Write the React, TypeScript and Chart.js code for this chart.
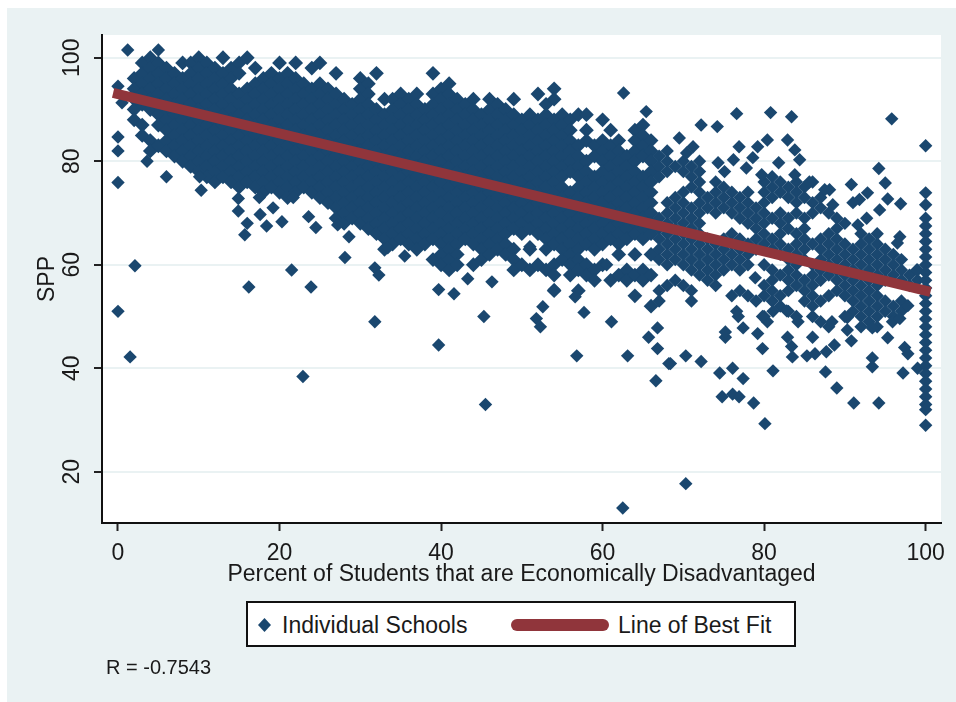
import React, { useEffect, useRef } from "react";
import { Chart, registerables } from "chart.js";

Chart.register(...registerables);

const xTickValues = [0, 20, 40, 60, 80, 100];
const yTickValues = [20, 40, 60, 80, 100];
const xTitle = "Percent of Students that are Economically Disadvantaged";
const yTitle = "SPP";
const schoolsLabel = "Individual Schools";
const fitLabel = "Line of Best Fit";
const noteText = "R = -0.7543";

const fitX = [0, 100];
const fitY = [93, 55];

const s2 = [96,94,92,90,88];
const s3 = [99,97,95,93,91,87,85];
const s4 = [100,98,96,94,92,90,84,82];
const s5 = [99,97,95,93,91,89,87,83];
const s6 = [98,96,94,92,90,88,86,84,82];
const s7 = [97,95,93,91,89,87,85,83,81];
const s8 = [99,96,94,92,90,88,86,84,82,80];
const s9 = [99,97,95,93,91,89,87,85,83,81,79];
const s10 = [100,98,96,94,92,90,88,86,84,82,80,78];
const s11 = [99,97,95,93,91,89,87,85,83,81,79,77];
const s12 = [98,96,94,92,90,88,86,84,82,80,78,76];
const s13 = [100,97,95,93,91,89,87,85,83,81,79,77];
const s14 = [98,96,94,92,90,88,86,84,82,80,78,76];
const s15 = [99,97,93,91,89,87,85,83,81,79,77,75];
const s16 = [100,94,92,90,88,86,84,82,80,78,76];
const s17 = [98,95,93,91,89,87,85,83,81,79,77,75];
const s18 = [96,94,92,90,88,86,84,82,80,78,76,74];
const s19 = [97,95,93,91,89,87,85,83,81,79,77,75];
const s20 = [99,96,94,92,90,88,86,84,82,80,78,76,74];
const s21 = [97,95,93,91,89,87,85,83,81,79,77,75,73];
const s22 = [99,96,94,92,90,88,86,84,82,80,78,76,74];
const s23 = [95,93,91,89,87,85,83,81,79,77,75];
const s24 = [98,94,92,90,88,86,84,82,80,78,76,74];
const s25 = [99,95,93,91,89,87,85,83,81,79,77,75,73];
const s26 = [94,92,90,88,86,84,82,80,78,76,74,72];
const s27 = [97,93,91,89,87,85,83,81,79,77,75,73,71,69];
const s28 = [92,90,88,86,84,82,80,78,76,74,72,70,68];
const s29 = [91,89,87,85,83,81,79,77,75,73,71,69];
const s30 = [96,94,92,90,88,86,84,82,80,78,76,74,72,70,68];
const s31 = [95,93,91,89,87,85,83,81,79,77,75,73,71,69,67];
const s32 = [97,90,88,86,84,82,80,78,76,74,72,70,68,66];
const s33 = [92,89,87,85,83,81,79,77,75,73,71,69,67,65,63];
const s34 = [92,90,88,86,84,82,80,78,76,74,72,70,68,66,64];
const s35 = [93,91,89,87,85,83,81,79,77,75,73,71,69,67,65];
const s36 = [92,90,88,86,84,82,80,78,76,74,72,70,68,66,64];
const s37 = [93,91,89,87,85,83,81,79,77,75,73,71,69,67,65,63];
const s38 = [90,88,86,84,82,80,78,76,74,72,70,68,66,64];
const s39 = [97,93,91,89,87,85,83,81,79,77,75,73,71,69,67,65,61];
const s40 = [94,92,90,88,86,84,82,80,78,76,74,72,70,68,66,64,62,60];
const s41 = [95,93,91,89,87,85,83,81,79,77,75,73,71,69,67,65,63,61,59];
const s42 = [92,90,88,86,84,82,80,78,76,74,72,70,68,66,64,62,60];
const s43 = [91,89,87,85,83,81,79,77,75,73,71,69,67,65];
const s44 = [92,90,88,86,84,82,80,78,76,74,72,70,68,66,64,60];
const s45 = [89,87,85,83,81,79,77,75,73,71,69,67,65,63,61];
const s46 = [92,90,88,86,84,82,80,78,76,74,72,70,68,66,64,62];
const s47 = [91,89,87,85,83,81,79,77,75,73,71,69,67,65,63];
const s48 = [90,88,86,84,82,80,78,76,74,72,70,68,66,64,62];
const s49 = [92,89,87,85,83,81,79,77,75,73,71,69,67,63,61,59];
const s50 = [88,86,84,82,80,78,76,74,72,70,68,66,60];
const s51 = [89,87,85,83,81,79,77,75,73,71,69,67,63,59];
const s52 = [93,88,86,84,82,80,78,76,74,72,70,68,66,60];
const s53 = [91,89,87,85,83,81,79,77,75,73,71,69,67,65,63,59];
const s54 = [94,92,88,86,84,82,80,78,76,74,72,70,68,66,64,60,58,55];
const s55 = [89,87,85,83,81,79,77,75,73,71,69,67,65,63,61];
const s56 = [88,86,84,82,80,78,74,72,70,68,66,64,62,60,58];
const s57 = [89,83,81,79,77,75,73,71,69,67,65,63,61,59,55];
const s58 = [89,86,84,80,78,76,74,72,70,68,66,64,60,58];
const s59 = [83,81,77,75,73,71,69,67,65,63,59,57];
const s60 = [88,84,82,80,78,76,74,72,70,68,66,64,60];
const s61 = [86,83,81,79,77,75,73,71,69,67,65,57];
const s62 = [84,82,80,78,76,74,72,70,68,66,64,62,58];
const s63 = [81,79,77,75,73,71,69,67,65,59,57];
const s64 = [86,84,82,80,78,76,74,72,70,68,66,62,58,54];
const s65 = [87,85,83,81,77,75,73,71,69,67,65,59,57];
const s66 = [84,82,80,78,76,74,72,70,68,66,62,58,52];
const s67 = [81,79,77,69,67,65,63,61,55,53];
const s68 = [82,80,78,72,70,68,66,64,62,60,56];
const s69 = [79,73,71,69,67,65,63,61,57];
const s70 = [80,78,74,72,70,68,66,64,62,60,56];
const s71 = [79,77,75,71,69,67,65,63,61,59,55,53];
const s72 = [80,78,76,74,72,70,68,66,64,62,60,58];
const s73 = [73,71,65,63,61,59,57];
const s74 = [76,74,72,70,64,62,60,58,56];
const s75 = [75,73,71,65,63,61,59];
const s76 = [74,72,70,66,64,62,60,54];
const s77 = [73,71,69,65,63,61,59,55];
const s78 = [74,72,70,68,64,62,60,54];
const s79 = [71,69,67,65,63,53];
const s80 = [76,74,72,70,68,66,64,60,56,54,50];
const s81 = [77,75,73,69,65,63,59,57,55,53];
const s82 = [76,74,70,68,66,64,62,58,54,52];
const s83 = [75,73,69,67,63,61,59,57,55,51];
const s84 = [76,74,72,70,66,64,62,60,58,56,50];
const s85 = [75,73,69,67,65,63,61,57,55,53];
const s86 = [76,72,70,64,60,58,56,54,52,50];
const s87 = [73,71,65,63,61,59,57,53,49];
const s88 = [70,66,64,62,60,58,54,48];
const s89 = [69,67,65,63,61,59,57,55];
const s90 = [68,64,62,60,58,56,54,50];
const s91 = [63,61,59,57,55,53,51];
const s92 = [66,64,62,60,58,56,54,52,50,48];
const s93 = [65,63,61,59,57,55,53,51,49];
const s94 = [66,64,62,60,58,56,54,52,50,48];
const s95 = [63,61,59,57,53,51];
const s96 = [62,60,58,52,50];
const s97 = [61,59,57,53,51];
const s98 = [58,56];
const s99 = [59,57,40];
const s100 = [83,73.9,71.6,69,67.5,66,64.5,63,61.5,60,58.5,57,55.5,54,52.5,51,49.5,48,46.5,45,43.5,42,40.5,39,37.5,36,34.5,33,32,29];

const columnXs = [2,3,4,5,6,7,8,9,10,11,12,13,14,15,16,17,18,19,20,21,22,23,24,25,26,27,28,29,30,31,32,33,34,35,36,37,38,39,40,41,42,43,44,45,46,47,48,49,50,51,52,53,54,55,56,57,58,59,60,61,62,63,64,65,66,67,68,69,70,71,72,73,74,75,76,77,78,79,80,81,82,83,84,85,86,87,88,89,90,91,92,93,94,95,96,97,98,99,100];
const columnYs = [s2,s3,s4,s5,s6,s7,s8,s9,s10,s11,s12,s13,s14,s15,s16,s17,s18,s19,s20,s21,s22,s23,s24,s25,s26,s27,s28,s29,s30,s31,s32,s33,s34,s35,s36,s37,s38,s39,s40,s41,s42,s43,s44,s45,s46,s47,s48,s49,s50,s51,s52,s53,s54,s55,s56,s57,s58,s59,s60,s61,s62,s63,s64,s65,s66,s67,s68,s69,s70,s71,s72,s73,s74,s75,s76,s77,s78,s79,s80,s81,s82,s83,s84,s85,s86,s87,s88,s89,s90,s91,s92,s93,s94,s95,s96,s97,s98,s99,s100];

const loneX = [1.2,0,0.5,5,0,0,0,3.6,6,10.1,10.3,14.9,14.9,16,15.7,17.5,17.6,18.4,19.2,20.3,23.6,24.5,21.7,27.2,28.6,28.1,33.4,31.8,32.3,21.5,2.1,16.2,23.9,31.8,22.9,0,1.5,43.3,46.3,39.7,41.6,45.3,39.7,45.5,35.5,52.6,51.8,52.3,57.7,61.1,56.8,63.1,66.8,65.7,66.8,68.2,66.6,54,56.6,70.3,68.4,72.2,74.5,76.1,77.4,81.1,74.8,76.1,76.9,78.7,80.1,70.3,62.5,87.6,89,91.1,94.2,97.2,93.4,93.4,97.4,97.8,75.2,75.2,79.2,79.8,95.3,90.8,83.5,85.3,86.3,87.7,88.7,86,82.9,83.4,77.4,76.8,76.6,80.4,81.1,79.8,84.2,82.8,88.4,90.3,90.3,93.4,95.9,96.8,97.8,76.6,80.8,83.4,95.8,72.2,74.2,69.5,80.4,82.9,71.2,70.4,76.9,76.2,79.2,78.6,77.8,83.8,84.4,81.8,74.3,75.1,94.2,95,90.8,95.3,96.9,88.1,87.5,88.5,92.8,91.8,91,94.3,92.7,91.6,96.8,96.5,79.7,83.8,85.6,51,60.5,65.4,62.6,98.9,78.9];
const loneY = [101.5,94.5,91.3,101.5,84.7,82,75.9,80,77,77,74.4,72.8,70.4,68,65.8,73,69.7,67.5,71,68.3,69.3,67.2,73,67.7,65.4,61.4,63.3,59.4,58,59,59.8,55.7,55.7,49,38.4,51,42.2,57.3,56.7,55.2,54.4,50,44.5,33,61.7,51.9,49.6,48,50.8,49,42.4,42.4,47.8,46,43.8,40.9,37.6,55.2,53.8,42.4,40.9,41.3,39.1,40,38,39.5,34.5,35,34.5,33.3,29.3,17.7,13,39.3,36.2,33.3,33.3,39.1,40.3,42,44,42.8,46,47,46.7,43.8,45.9,45.3,42.2,42.4,42.8,43.2,44.5,46,46,44.2,47.8,50,51,49,51,50,49,51.1,49,49.8,47.4,47.8,49,49.6,52.1,89.2,89.4,88.6,88.2,87,86.7,84.5,84.1,84.1,82.8,81.6,82.8,80.3,82.8,80.7,78.7,82.2,80.3,79.7,79.7,78,78.6,75.8,75.5,72.7,71.8,74.5,74.5,71.6,73.9,72.6,72,70.6,69,67.7,65.4,64.2,77.4,77.4,76,63.5,60,89.6,93.2,59,57.5];

const navy = "#1A476F";
const maroon = "#90353B";
const panel = "#EAF2F3";
const fontFamily = '"Liberation Sans", Arial, sans-serif';
const denseLimit = 66;

function schoolPoints() {
  const pts: { x: number; y: number; dense: boolean }[] = [];
  columnXs.forEach((x, i) => columnYs[i].forEach((y) => pts.push({ x, y, dense: x <= denseLimit })));
  loneX.forEach((x, i) => pts.push({ x, y: loneY[i], dense: false }));
  return pts;
}

const whitePlot = {
  id: "whitePlot",
  beforeDraw(chart: any) {
    const { ctx, chartArea: a } = chart;
    ctx.save();
    ctx.fillStyle = "#FFFFFF";
    ctx.fillRect(a.left, a.top, a.right - a.left, a.bottom - a.top);
    ctx.restore();
  },
};

export default function App() {
  const ref = useRef<HTMLCanvasElement>(null);
  useEffect(() => {
    const chart = new Chart(ref.current as HTMLCanvasElement, {
      type: "scatter",
      plugins: [whitePlot],
      data: {
        datasets: [
          {
            label: fitLabel,
            data: fitX.map((x, i) => ({ x, y: fitY[i] })),
            showLine: true,
            borderColor: maroon,
            borderWidth: 10,
            borderCapStyle: "square",
            pointRadius: 0,
            order: 1,
          },
          {
            label: schoolsLabel,
            data: schoolPoints(),
            pointStyle: "rectRot",
            pointRadius: (c: any) => (c.raw && c.raw.dense ? 7.4 : 6.7),
            pointBorderWidth: 0,
            pointBackgroundColor: navy,
            backgroundColor: navy,
            order: 2,
          },
        ],
      },
      options: {
        animation: false,
        responsive: false,
        devicePixelRatio: 1,
        layout: { padding: { left: 0, top: 27, right: 15, bottom: 114 } },
        plugins: { legend: { display: false }, tooltip: { enabled: false } },
        scales: {
          x: {
            type: "linear",
            min: -1.98,
            max: 101.9,
            afterBuildTicks: (s: any) => {
              s.ticks = xTickValues.map((value) => ({ value }));
            },
            afterFit: (s: any) => {
              s.height = 65;
            },
            ticks: {
              autoSkip: false,
              maxRotation: 0,
              color: "#1a1a1a",
              padding: 9,
              font: { family: fontFamily, size: 23 },
            },
            grid: { drawOnChartArea: false, drawTicks: true, tickLength: 8, tickColor: "#222", tickWidth: 2 },
            border: { color: "#111", width: 2 },
            title: { display: true, text: xTitle, color: "#1a1a1a", padding: 0, font: { family: fontFamily, size: 23 } },
          },
          y: {
            type: "linear",
            min: 10.1,
            max: 104.4,
            afterBuildTicks: (s: any) => {
              s.ticks = yTickValues.map((value) => ({ value }));
            },
            afterFit: (s: any) => {
              s.width = 95;
            },
            ticks: {
              autoSkip: false,
              minRotation: 90,
              maxRotation: 90,
              crossAlign: "center",
              color: "#1a1a1a",
              padding: 2,
              font: { family: fontFamily, size: 23 },
            },
            grid: { color: panel, lineWidth: 2, drawTicks: true, tickLength: 8, tickColor: "#222", tickWidth: 2 },
            border: { color: "#111", width: 2 },
            title: { display: true, text: yTitle, color: "#1a1a1a", padding: { top: 27, bottom: 0 }, font: { family: fontFamily, size: 23 } },
          },
        },
      },
    } as any);
    return () => chart.destroy();
  }, []);

  const text: React.CSSProperties = {
    position: "absolute",
    fontFamily,
    fontSize: 23,
    lineHeight: "26px",
    color: "#1a1a1a",
    whiteSpace: "nowrap",
  };

  return (
    <div style={{ position: "fixed", left: 7, top: 8, width: 949, height: 694, background: panel }}>
      <canvas ref={ref} width={949} height={694} style={{ display: "block", width: 949, height: 694 }} />
      <div
        style={{
          position: "absolute",
          left: 239,
          top: 593,
          width: 546,
          height: 42,
          border: "2px solid #111",
          background: "#fff",
        }}
      />
      <div
        style={{
          position: "absolute",
          left: 251,
          top: 610,
          width: 13,
          height: 14,
          background: navy,
          clipPath: "polygon(50% 0, 100% 50%, 50% 100%, 0 50%)",
        }}
      />
      <span style={{ ...text, left: 275, top: 604 }}>{schoolsLabel}</span>
      <div style={{ position: "absolute", left: 504, top: 611, width: 98, height: 12, borderRadius: 6, background: maroon }} />
      <span style={{ ...text, left: 611, top: 604 }}>{fitLabel}</span>
      <span style={{ ...text, left: 99, top: 646, fontSize: 20 }}>{noteText}</span>
    </div>
  );
}
